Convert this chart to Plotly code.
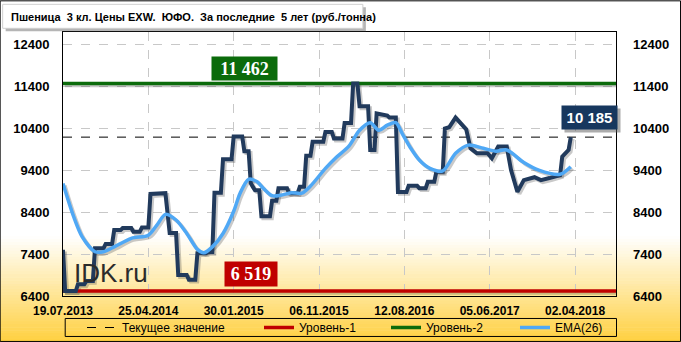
import plotly.graph_objects as go

# ---------------- data ----------------
tick_idx = [0, 40, 80, 120, 160, 200, 240]
tick_labels = ["19.07.2013", "25.04.2014", "30.01.2015", "06.11.2015",
               "12.08.2016", "05.06.2017", "02.04.2018"]

price_idx = [0, 1, 6, 7, 10, 11, 14, 15, 19, 20,
             23, 24, 27, 28, 32, 33, 36, 37, 40, 41,
             48, 50, 53, 54, 58, 59, 62, 63, 67, 68,
             70, 71, 74, 75, 79, 80, 84, 85, 87, 88,
             89, 90, 92, 93, 97, 98, 100, 101, 105, 106,
             110, 111, 113, 114, 116, 117, 122, 123, 126, 127,
             131, 132, 135, 136, 138, 139, 143, 144, 146, 147,
             152, 153, 156, 157, 161, 162, 166, 167, 170, 171,
             174, 175, 178, 179, 181, 184, 189, 191, 194, 199,
             201, 204, 208, 210, 213, 216, 221, 224, 228, 233,
             234, 237, 238]
price_val = [7500, 6519, 6519, 6680, 6680, 6760, 6760, 7540, 7540, 7640,
             7640, 7970, 7970, 8020, 8020, 7930, 7930, 8030, 8030, 8830,
             8850, 7900, 7900, 6900, 6900, 6790, 6790, 7420, 7420, 7450,
             7450, 8860, 8860, 9660, 9660, 10200, 10200, 9850, 9850, 9090,
             9000, 8920, 8920, 8300, 8300, 8670, 8670, 8970, 8970, 8850,
             8850, 9000, 9000, 9740, 9740, 10075, 10075, 10310, 10310, 10150,
             10150, 10520, 10520, 11462, 11462, 10920, 10920, 9880, 9880, 10750,
             10700, 10650, 10650, 8880, 8880, 9025, 9025, 8970, 8970, 9120,
             9120, 9360, 9360, 10390, 10420, 10650, 10370, 9920, 9800, 9800,
             9680, 9960, 9960, 9400, 8880, 9160, 9230, 9160, 9210, 9280,
             9720, 9880, 10185]

ema_idx = [0, 5, 9, 15, 19, 24, 32, 40, 44, 48,
           53, 58, 63, 66, 70, 75, 80, 83, 87, 91,
           94, 98, 102, 107, 112, 116, 123, 128, 134, 139,
           144, 148, 152, 156, 159, 163, 167, 172, 178, 184,
           190, 197, 203, 208, 216, 223, 233, 238]
ema_val = [9080, 8290, 7810, 7455, 7455, 7570, 7775, 7850, 8090, 8345,
           8210, 7890, 7510, 7430, 7570, 7890, 8420, 8850, 9180, 9120,
           8960, 8790, 8800, 8860, 8850, 9020, 9440, 9700, 9970, 10350,
           10530, 10350, 10470, 10530, 10270, 9920, 9640, 9440, 9380, 9800,
           9995, 9920, 9850, 9880, 9580, 9400, 9300, 9480]

current_value = 10185
level_1 = 6519
level_2 = 11462

x_range = [0, 259.2]
y_range = [6400, 12690]
y_ticks = [6400, 7400, 8400, 9400, 10400, 11400, 12400]

# ---------------- figure ----------------
fig = go.Figure()

# shadows
sh_dx, sh_dy = 0.9, -45
shadow = "rgba(60,60,60,0.28)"
for xs, ys, w, shp in [
    (x_range, [level_2, level_2], 3.5, "linear"),
    (x_range, [level_1, level_1], 3.5, "linear"),
    (price_idx, price_val, 4, "linear"),
    (ema_idx, ema_val, 3.5, "spline"),
]:
    fig.add_trace(go.Scatter(x=[v + sh_dx for v in xs], y=[v + sh_dy for v in ys],
                             mode="lines", line=dict(color=shadow, width=w, shape=shp),
                             showlegend=False, hoverinfo="skip"))

fig.add_trace(go.Scatter(x=x_range, y=[current_value, current_value], mode="lines",
                         name="Текущее значение", legendwidth=132,
                         line=dict(color="black", width=1, dash="dash")))
fig.add_trace(go.Scatter(x=x_range, y=[level_1, level_1], mode="lines",
                         name="Уровень-1", legendwidth=82,
                         line=dict(color="#C00000", width=3.5)))
fig.add_trace(go.Scatter(x=x_range, y=[level_2, level_2], mode="lines",
                         name="Уровень-2", legendwidth=84,
                         line=dict(color="#0B6B0B", width=3.5)))
fig.add_trace(go.Scatter(x=price_idx, y=price_val, mode="lines", showlegend=False,
                         name="Цена", line=dict(color="#213A5C", width=4)))
fig.add_trace(go.Scatter(x=ema_idx, y=ema_val, mode="lines", name="EMA(26)",
                         legendwidth=60,
                         line=dict(color="#4FA8F5", width=3.5, shape="spline",
                                   smoothing=0.8)))
# invisible trace for right axis
fig.add_trace(go.Scatter(x=x_range, y=y_range, yaxis="y2", mode="lines",
                         line=dict(width=0), showlegend=False, hoverinfo="skip",
                         opacity=0))

# background gradient bands (paper coords)
PX_L, PX_R, PX_T, PX_B = 63.3, 616.0, 31.7, 296.0
def px_x(p):
    return (p - PX_L) / (PX_R - PX_L)
def px_y(p):
    return (PX_B - p) / (PX_B - PX_T)

shapes = []
n_bands = 36
g_top, g_bot = 236, 342
c0 = (255, 255, 255)
c1 = (255, 208, 64)
for i in range(n_bands):
    t = (i + 0.5) / n_bands
    col = tuple(int(round(c0[k] + (c1[k] - c0[k]) * t)) for k in range(3))
    y_a = g_top + (g_bot - g_top) * i / n_bands
    y_b = g_top + (g_bot - g_top) * (i + 1) / n_bands + 0.6
    shapes.append(dict(type="rect", xref="paper", yref="paper", layer="below",
                       x0=px_x(0), x1=px_x(681), y0=px_y(y_b), y1=px_y(y_a),
                       fillcolor="rgb(%d,%d,%d)" % col, line=dict(width=0)))

# title box + shadow
shapes.append(dict(type="rect", xref="paper", yref="paper", layer="above",
                   x0=px_x(6), x1=px_x(366), y0=px_y(31), y1=px_y(7),
                   fillcolor="rgba(120,120,120,0.55)", line=dict(width=0)))
shapes.append(dict(type="rect", xref="paper", yref="paper", layer="above",
                   x0=px_x(3), x1=px_x(363), y0=px_y(28), y1=px_y(4),
                   fillcolor="white", line=dict(color="#D0D0D0", width=1)))
# legend frame
shapes.append(dict(type="rect", xref="paper", yref="paper", layer="above",
                   x0=px_x(65.5), x1=px_x(616.5), y0=px_y(336.5), y1=px_y(318.5),
                   line=dict(color="black", width=1)))
# outer border
shapes.append(dict(type="rect", xref="paper", yref="paper", layer="above",
                   x0=px_x(0.5), x1=px_x(680.5), y0=px_y(341.5), y1=px_y(0.5),
                   line=dict(color="black", width=1)))

annotations = [
    dict(xref="paper", yref="paper", x=px_x(9), y=px_y(16.5), xanchor="left",
         yanchor="middle", showarrow=False,
         text="Пшеница  3 кл. Цены EXW.  ЮФО.  За последние  5 лет (руб./тонна)",
         font=dict(family="Liberation Sans, Arial", size=11, color="black",
                   weight="bold")),
    dict(xref="paper", yref="paper", x=px_x(72), y=px_y(273), xanchor="left",
         yanchor="middle", showarrow=False, text="IDK.ru",
         font=dict(family="Liberation Sans, Arial", size=26, color="#2B2B2B")),
    dict(x=85, y=level_2, yanchor="bottom", yshift=3, showarrow=False,
         text="11 462", bgcolor="#0B6B0B", width=61, height=19, borderpad=2,
         font=dict(family="Liberation Serif, Times New Roman", size=18,
                   color="white", weight="bold")),
    dict(x=88, y=level_1, yanchor="bottom", yshift=4, showarrow=False,
         text="6 519", bgcolor="#C00000", width=48, height=20, borderpad=2,
         font=dict(family="Liberation Serif, Times New Roman", size=18,
                   color="white", weight="bold")),
    dict(x=246.6, y=current_value, yanchor="bottom", yshift=4, xshift=3,
         showarrow=False, text=" ", bgcolor="rgba(90,90,90,0.5)",
         width=51, height=19, borderpad=2,
         font=dict(family="Liberation Sans, Arial", size=15)),
    dict(x=246.6, y=current_value, yanchor="bottom", yshift=7, showarrow=False,
         text="10 185", bgcolor="#17375E",
         width=51, height=19, borderpad=2,
         font=dict(family="Liberation Sans, Arial", size=15,
                   color="white", weight="bold")),
]

tickfont = dict(family="Liberation Sans, Arial", size=13, color="black",
                weight="bold")

fig.update_layout(
    width=681, height=342,
    margin=dict(l=63, r=65, t=32, b=46, autoexpand=False),
    paper_bgcolor="white",
    plot_bgcolor="rgba(0,0,0,0)",
    shapes=shapes,
    annotations=annotations,
    showlegend=True,
    legend=dict(orientation="h", xref="container", yref="container",
                x=82 / 681, xanchor="left", y=1 - 327.5 / 342,
                yanchor="middle", bgcolor="rgba(0,0,0,0)", borderwidth=0,
                font=dict(family="Liberation Sans, Arial", size=12, color="black"),
                itemwidth=30),
    xaxis=dict(range=x_range, tickvals=tick_idx, ticktext=tick_labels,
               automargin=False,
               showgrid=True, gridcolor="#C8C8C8", griddash="dash", gridwidth=1,
               showline=True, linecolor="black", linewidth=1, mirror=True,
               zeroline=False, ticks="", ticklabelstandoff=4,
               tickfont=dict(family="Liberation Sans, Arial", size=12,
                             color="black", weight="bold")),
    yaxis=dict(range=y_range, tickvals=y_ticks, tickformat="d", showgrid=True,
               automargin=False,
               gridcolor="#C8C8C8", griddash="dash", gridwidth=1,
               showline=True, linecolor="black", linewidth=1, mirror=True,
               zeroline=False, ticks="", ticklabelstandoff=10, tickfont=tickfont),
    yaxis2=dict(range=y_range, tickvals=y_ticks, tickformat="d", overlaying="y",
                automargin=False,
                side="right", showgrid=False, showline=False, zeroline=False,
                ticks="", ticklabelstandoff=16, tickfont=tickfont),
)

fig.write_html("out.html")
